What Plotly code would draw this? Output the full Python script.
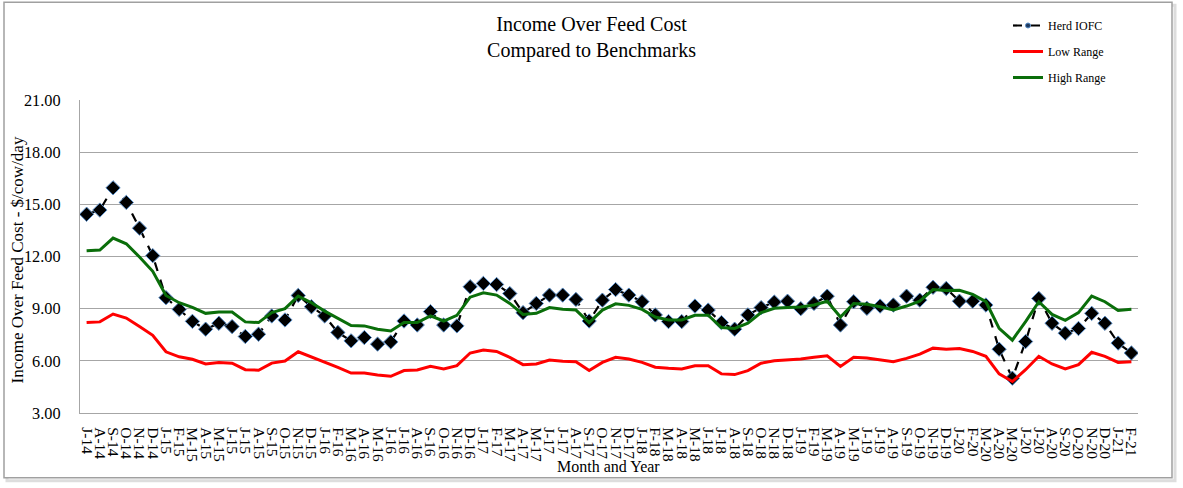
import plotly.graph_objects as go

# %% DATA
months = [
    'J-14', 'A-14', 'S-14', 'O-14', 'N-14', 'D-14',
    'J-15', 'F-15', 'M-15', 'A-15', 'M-15', 'J-15', 'J-15', 'A-15', 'S-15', 'O-15', 'N-15', 'D-15',
    'J-16', 'F-16', 'M-16', 'A-16', 'M-16', 'J-16', 'J-16', 'A-16', 'S-16', 'O-16', 'N-16', 'D-16',
    'J-17', 'F-17', 'M-17', 'A-17', 'M-17', 'J-17', 'J-17', 'A-17', 'S-17', 'O-17', 'N-17', 'D-17',
    'J-18', 'F-18', 'M-18', 'A-18', 'M-18', 'J-18', 'J-18', 'A-18', 'S-18', 'O-18', 'N-18', 'D-18',
    'J-19', 'F-19', 'M-19', 'A-19', 'M-19', 'J-19', 'J-19', 'A-19', 'S-19', 'O-19', 'N-19', 'D-19',
    'J-20', 'F-20', 'M-20', 'A-20', 'M-20', 'J-20', 'J-20', 'A-20', 'S-20', 'O-20', 'N-20', 'D-20',
    'J-21', 'F-21',
]

herd_iofc = [
    14.43, 14.67, 15.95, 15.11, 13.63, 12.05,
    9.63, 8.96, 8.27, 7.82, 8.16, 7.97, 7.40, 7.53, 8.58, 8.35, 9.76, 9.11,
    8.58, 7.63, 7.15, 7.34, 6.96, 7.09, 8.29, 8.06, 8.83, 8.06, 8.01, 10.26,
    10.45, 10.39, 9.87, 8.77, 9.30, 9.78, 9.78, 9.53, 8.29, 9.49, 10.10, 9.78,
    9.40, 8.64, 8.26, 8.26, 9.15, 8.92, 8.20, 7.82, 8.64, 9.06, 9.38, 9.43,
    9.00, 9.30, 9.72, 8.06, 9.40, 9.02, 9.15, 9.21, 9.72, 9.49, 10.23, 10.16,
    9.43, 9.43, 9.21, 6.67, 5.00, 7.11, 9.59, 8.16, 7.59, 7.86, 8.73, 8.16,
    7.02, 6.45,
]

low_range = [
    8.20, 8.24, 8.69, 8.46, 7.97, 7.47,
    6.52, 6.23, 6.09, 5.82, 5.91, 5.86, 5.49, 5.46, 5.87, 5.99, 6.52, 6.23,
    5.91, 5.62, 5.30, 5.30, 5.19, 5.11, 5.44, 5.47, 5.68, 5.53, 5.72, 6.45,
    6.62, 6.54, 6.20, 5.78, 5.82, 6.05, 5.97, 5.95, 5.44, 5.91, 6.20, 6.10,
    5.91, 5.63, 5.57, 5.53, 5.72, 5.72, 5.25, 5.21, 5.44, 5.86, 6.01, 6.06,
    6.10, 6.20, 6.29, 5.68, 6.20, 6.16, 6.04, 5.95, 6.14, 6.39, 6.73, 6.67,
    6.71, 6.54, 6.26, 5.25, 4.81, 5.49, 6.26, 5.82, 5.53, 5.78, 6.49, 6.26,
    5.91, 5.95,
]

high_range = [
    12.33, 12.37, 13.06, 12.73, 11.97, 11.15,
    9.76, 9.34, 9.07, 8.73, 8.81, 8.81, 8.24, 8.20, 8.77, 9.00, 9.72, 9.34,
    8.86, 8.42, 8.03, 8.01, 7.82, 7.72, 8.20, 8.20, 8.58, 8.29, 8.62, 9.66,
    9.91, 9.78, 9.30, 8.67, 8.73, 9.06, 8.96, 8.92, 8.20, 8.92, 9.28, 9.19,
    8.96, 8.52, 8.35, 8.35, 8.62, 8.62, 7.91, 7.86, 8.16, 8.77, 9.02, 9.06,
    9.09, 9.21, 9.43, 8.52, 9.30, 9.25, 9.11, 8.92, 9.15, 9.43, 10.10, 10.05,
    10.06, 9.82, 9.40, 7.87, 7.19, 8.26, 9.40, 8.67, 8.33, 8.77, 9.72, 9.40,
    8.90, 8.96,
]

y_ticks = [3, 6, 9, 12, 15, 18, 21]

# month labels repeat (M-15 twice etc.) so plot against positions
x_pos = list(range(len(months)))

# %% FIGURE
W, H = 1183, 488
ML, MR, MT, MB = 80, 45, 99, 75
PW, PH = W - ML - MR, H - MT - MB


def px_x(p):
    return (p - ML) / PW


def px_y(p):
    return (H - MB - p) / PH


fig = go.Figure()

herd_line = dict(color='black', width=2.2, dash='dash')

fig.add_trace(go.Scatter(
    x=x_pos, y=herd_iofc, name='Herd IOFC', mode='lines+markers',
    line=herd_line,
    marker=dict(symbol='diamond', size=11, color='black',
                line=dict(color='#5B8FC9', width=1)),
    showlegend=False,
))
# legend-only entry so the key shows the small marker like the original
fig.add_trace(go.Scatter(
    x=[None], y=[None], name='Herd IOFC', mode='lines+markers',
    line=herd_line,
    marker=dict(symbol='circle', size=5, color='#1F3A60',
                line=dict(color='#5B8FC9', width=1)),
    legendgroup='a',
))
fig.add_trace(go.Scatter(
    x=x_pos, y=low_range, name='Low Range', mode='lines',
    line=dict(color='#FF0000', width=3),
    legendgroup='b',
))
fig.add_trace(go.Scatter(
    x=x_pos, y=high_range, name='High Range', mode='lines',
    line=dict(color='#0A6E0A', width=3),
    legendgroup='c',
))

font_family = 'Liberation Serif, Times New Roman, serif'

fig.update_layout(
    width=W, height=H,
    margin=dict(l=ML, r=MR, t=MT, b=MB),
    plot_bgcolor='white',
    paper_bgcolor='white',
    font=dict(family=font_family, color='black', size=15),
    title=dict(
        text='Income Over Feed Cost<br>Compared to Benchmarks',
        x=0.5, xref='container', xanchor='center',
        y=1 - 31 / H, yref='container', yanchor='middle',
        font=dict(size=20, family=font_family),
    ),
    legend=dict(
        x=px_x(1008), y=px_y(11), xanchor='left', yanchor='top',
        font=dict(size=12, family=font_family),
        traceorder='grouped', tracegroupgap=7,
        itemwidth=30, bgcolor='rgba(0,0,0,0)',
    ),
    showlegend=True,
)

fig.update_xaxes(
    range=[-0.5, len(months) - 0.5],
    tickmode='array', tickvals=x_pos, ticktext=months,
    tickangle=90, tickfont=dict(size=15.5),
    showgrid=False, zeroline=False,
    showline=True, linecolor='#A6A6A6', linewidth=1.3,
    ticks='', ticklabelstandoff=10,
)
fig.update_yaxes(
    range=[3, 21],
    tickmode='array', tickvals=y_ticks, tickformat='.2f',
    tickfont=dict(size=16.3),
    showgrid=True, gridcolor='#A6A6A6', gridwidth=1.3,
    zeroline=False,
    showline=True, linecolor='#A6A6A6', linewidth=1.3,
    ticks='', ticklabelstandoff=15,
)

# axis titles placed as annotations
fig.add_annotation(
    text='Income Over Feed Cost - $/cow/day', textangle=-90,
    xref='paper', yref='paper', x=px_x(17), y=px_y(260),
    xanchor='center', yanchor='middle', showarrow=False,
    font=dict(size=17, family=font_family),
)
fig.add_annotation(
    text='Month and Year',
    xref='paper', yref='paper', x=px_x(608), y=px_y(467),
    xanchor='center', yanchor='middle', showarrow=False,
    font=dict(size=16, family=font_family),
)

# outer chart frame with a soft shadow
fig.add_shape(
    type='rect', xref='paper', yref='paper', layer='below',
    x0=px_x(7), x1=px_x(1175), y0=px_y(481), y1=px_y(4),
    line=dict(color='#DDDDDD', width=3),
)
fig.add_shape(
    type='rect', xref='paper', yref='paper', layer='below',
    x0=px_x(4), x1=px_x(1172), y0=px_y(478), y1=px_y(1),
    line=dict(color='#A0A0A0', width=1.5), fillcolor='white',
)

fig.write_html(
    'out.html',
    config={'displayModeBar': False},
    post_script="document.body.style.margin='0';",
)
